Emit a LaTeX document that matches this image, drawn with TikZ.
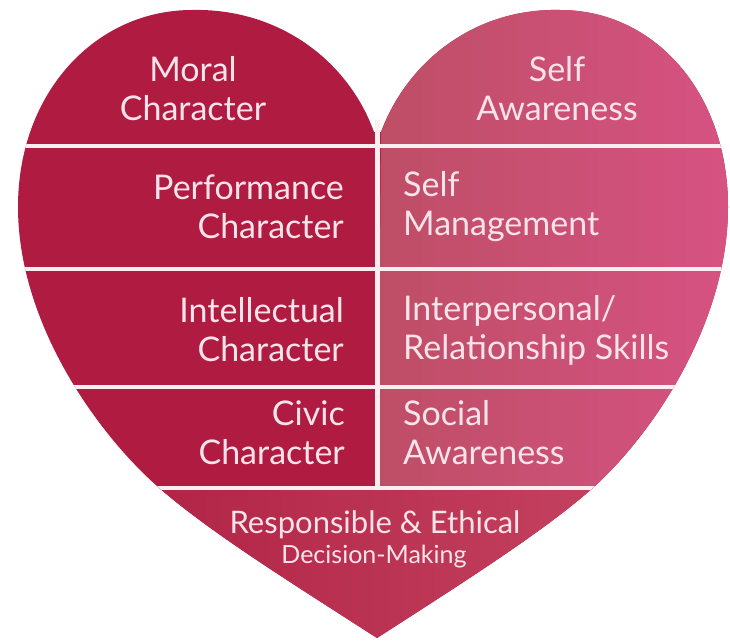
\documentclass[tikz,border=0pt]{standalone}
\usepackage{fontspec}
\setmainfont{Lato}
\definecolor{moralred}{RGB}{176,27,66}
\definecolor{selfpinkA}{RGB}{190,78,102}
\definecolor{selfpinkB}{RGB}{214,82,130}
\definecolor{decisionA}{RGB}{172,26,62}
\definecolor{decisionB}{RGB}{200,74,102}
\definecolor{labelpink}{RGB}{250,228,234}
\definecolor{gapwhite}{RGB}{250,238,241}
\tikzset{
  heartlbl/.style={text=labelpink, inner sep=0pt, font=\fontsize{34}{39}\selectfont},
  leftlbl/.style={heartlbl, anchor=east, align=right},
  rightlbl/.style={heartlbl, anchor=west, align=left},
  divider/.style={draw=gapwhite, line width=4pt},
}
\begin{document}
\begin{tikzpicture}[x=1pt,y=-1pt]
  \fill[white] (0,0) rectangle (730,640);
  \useasboundingbox (0,0) rectangle (730,640);
  % outline of the heart, and its right half
  \path[save path=\fullheart] (377,638)
    .. controls (287,580) and (208,531) .. (157,486)
    .. controls (96,432) and (18,322) .. (18,207)
    .. controls (18,92) and (96,10) .. (192,10)
    .. controls (278,8) and (348,60) .. (374,132) -- (381,132)
    .. controls (408,60) and (476,8) .. (560,10)
    .. controls (654,10) and (728,92) .. (728,207)
    .. controls (728,322) and (654,432) .. (595,486)
    .. controls (546,530) and (467,580) .. (377,638) -- cycle;
  \path[save path=\righthalf] (377,638)
    .. controls (467,580) and (546,530) .. (595,486)
    .. controls (654,432) and (728,322) .. (728,207)
    .. controls (728,92) and (654,10) .. (560,10)
    .. controls (476,8) and (408,60) .. (381,132) -- cycle;
  \fill[moralred, use path=\fullheart];
  \begin{scope}
    \clip[use path=\righthalf];
    \shade[left color=selfpinkA, right color=selfpinkB] (377,0) rectangle (730,488);
  \end{scope}
  \begin{scope}
    \clip[use path=\fullheart];
    \shade[left color=decisionA, right color=decisionB] (0,488) rectangle (730,640);
    \foreach \y in {146,269,387,488}
      \draw[divider] (0,\y) -- (730,\y);
  \end{scope}
  \draw[divider, line width=5pt] (377.5,120) -- (377.5,488);
  % labels
  \node[heartlbl, align=center] (moral) at (193,89) {Moral\\Character};
  \node[heartlbl, align=center] (selfaw) at (557,89) {Self\\Awareness};
  \node[leftlbl] (perf) at (344,207) {Performance\\Character};
  \node[rightlbl] (selfman) at (403,207) {Self\\Management};
  \node[leftlbl] (intel) at (344,330) {Intellectual\\Character};
  \node[rightlbl] (interp) at (403,330) {Interpersonal/\\Relationship Skills};
  \node[leftlbl] (civic) at (345,433) {Civic\\Character};
  \node[rightlbl] (social) at (403,433) {Social\\Awareness};
  \node[heartlbl, font=\fontsize{31}{38}\selectfont] (resp) at (375,525) {Responsible \& Ethical};
  \node[heartlbl, font=\fontsize{25}{30}\selectfont] (decide) at (374,557) {Decision-Making};
\end{tikzpicture}
\end{document}
